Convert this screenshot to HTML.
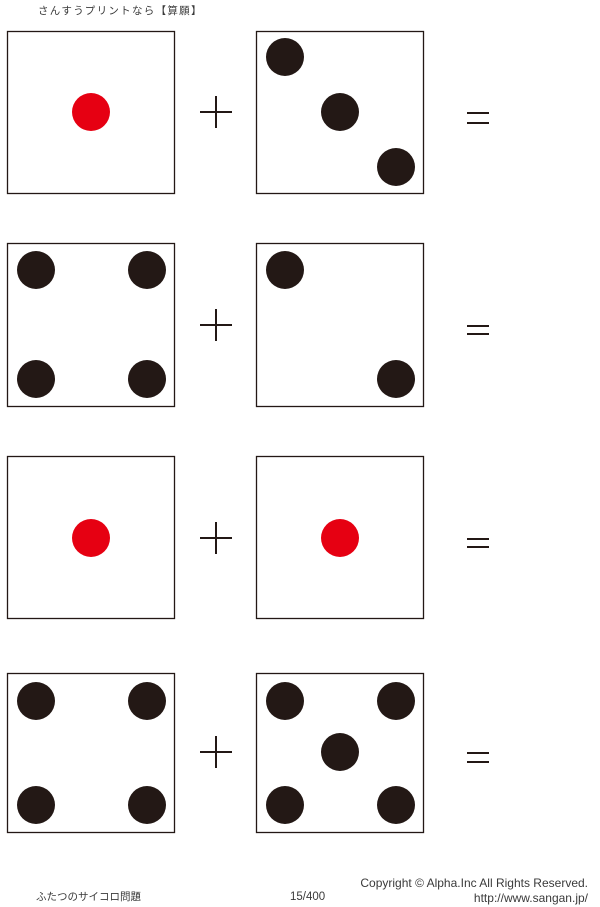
<!DOCTYPE html>
<html><head><meta charset="utf-8"><style>
body{margin:0;background:#fff;}
svg{display:block}
text{font-family:"Liberation Sans","Noto Sans CJK JP",sans-serif;fill:#3a3a3a}
</style></head><body>
<svg width="600" height="907" viewBox="0 0 600 907" xmlns="http://www.w3.org/2000/svg">
<g fill="none" stroke="#231815" stroke-width="1.3">
<rect x="7.5" y="31.5" width="167" height="162"/>
<rect x="256.5" y="31.5" width="167" height="162"/>
<rect x="7.5" y="243.5" width="167" height="163"/>
<rect x="256.5" y="243.5" width="167" height="163"/>
<rect x="7.5" y="456.5" width="167" height="162"/>
<rect x="256.5" y="456.5" width="167" height="162"/>
<rect x="7.5" y="673.5" width="167" height="159"/>
<rect x="256.5" y="673.5" width="167" height="159"/>
</g>
<g fill="#231815">
<circle cx="285" cy="57" r="19"/><circle cx="340" cy="112" r="19"/><circle cx="396" cy="167" r="19"/>
<circle cx="36" cy="270" r="19"/><circle cx="147" cy="270" r="19"/><circle cx="36" cy="379" r="19"/><circle cx="147" cy="379" r="19"/>
<circle cx="285" cy="270" r="19"/><circle cx="396" cy="379" r="19"/>
<circle cx="36" cy="701" r="19"/><circle cx="147" cy="701" r="19"/><circle cx="36" cy="805" r="19"/><circle cx="147" cy="805" r="19"/>
<circle cx="285" cy="701" r="19"/><circle cx="396" cy="701" r="19"/><circle cx="340" cy="752" r="19"/><circle cx="285" cy="805" r="19"/><circle cx="396" cy="805" r="19"/>
</g>
<g fill="#e60012">
<circle cx="91" cy="112" r="19"/><circle cx="91" cy="538" r="19"/><circle cx="340" cy="538" r="19"/>
</g>
<g stroke="#231815" stroke-width="2" fill="none">
<path d="M200 112H232M216 96V128"/>
<path d="M200 325H232M216 309V341"/>
<path d="M200 538H232M216 522V554"/>
<path d="M200 752H232M216 736V768"/>
<path d="M467 113H489M467 123H489"/>
<path d="M467 326H489M467 334H489"/>
<path d="M467 539H489M467 547H489"/>
<path d="M467 753H489M467 762H489"/>
</g>
<text x="38" y="14" font-size="10.5" letter-spacing="1.3">さんすうプリントなら【算願】</text>
<text x="36" y="900" font-size="10.5" letter-spacing="0">ふたつのサイコロ問題</text>
<text x="290" y="900" font-size="11.5">15/400</text>
<text x="588" y="887" font-size="12" text-anchor="end">Copyright ©  Alpha.Inc All Rights Reserved.</text>
<text x="588" y="902" font-size="12" text-anchor="end">http://www.sangan.jp/</text>
</svg>
</body></html>
